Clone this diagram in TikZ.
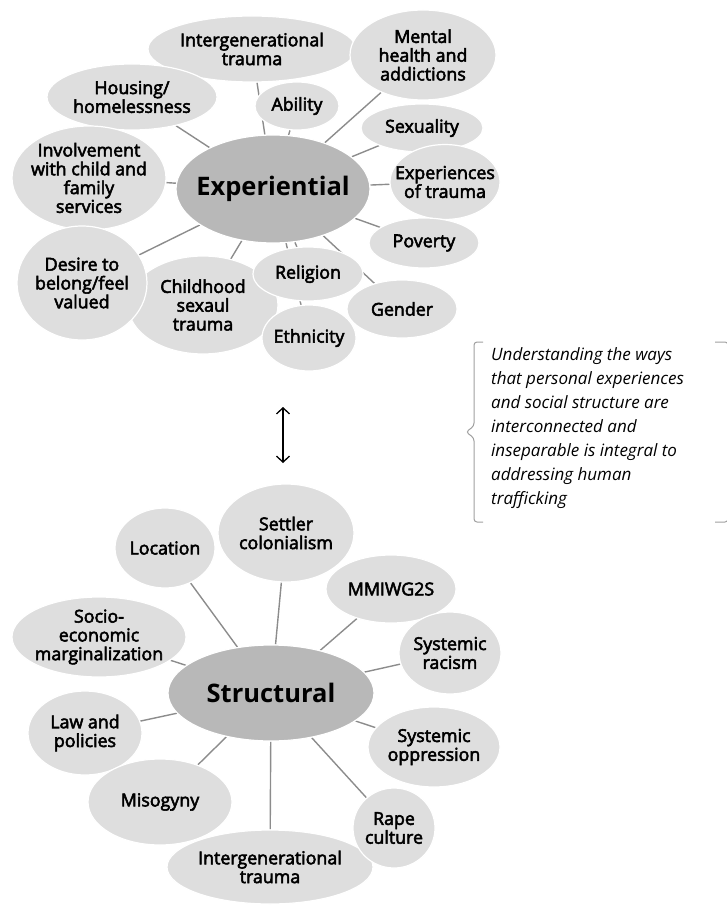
\documentclass[tikz,border=0pt]{standalone}
\usepackage{fontspec}
\setmainfont{Open Sans}
\newfontfamily\bubfont[FakeBold=3]{Open Sans}
\usetikzlibrary{shapes.geometric}
\usetikzlibrary{backgrounds}
\usetikzlibrary{arrows.meta}

\definecolor{bubgray}{HTML}{DEDEDE}
\definecolor{hubgray}{HTML}{B8B8B8}
\definecolor{spokegray}{HTML}{8C8C8C}
\definecolor{bracegray}{HTML}{A0A0A0}

\tikzset{
  bub/.style 2 args={ellipse, fill=bubgray, draw=white, line width=1.2pt,
    minimum width=#1, minimum height=#2, inner sep=0pt},
  hub/.style 2 args={ellipse, fill=hubgray, draw=white, line width=1.2pt,
    minimum width=#1, minimum height=#2, inner sep=0pt},
  lbl/.style={align=center, inner sep=0pt,
    font=\bubfont\fontsize{17.8}{18.8}\selectfont},
  hubtxt/.style={inner sep=0pt, font=\fontsize{25.5}{28}\selectfont\bfseries},
  spoke/.style={draw=spokegray, line width=1.4pt},
  brace/.style={draw=bracegray, line width=1pt, rounded corners=3pt},
}

\begin{document}
\begin{tikzpicture}[x=1pt, y=-1pt]
    \useasboundingbox (0, 0) rectangle (727, 920);

    % experiential
    \node[hub={194}{108}, label={[hubtxt]center:Experiential}] (exp) at (273, 189) {};

    \node[bub={208}{66}, label={[lbl]center:Intergenerational\\trauma}] (intA) at (252, 49) {};
    \node[bub={146}{90}, label={[lbl]center:Mental\\health and\\addictions}] (ment) at (423, 55) {};
    \node[bub={170}{66}, label={[lbl]center:Housing/\\homelessness}] (hous) at (132, 97) {};
    \node[bub={84}{48}, label={[lbl]center:Ability}] (abil) at (297, 106) {};
    \node[bub={122}{48}, label={[lbl]center:Sexuality}] (sexu) at (422, 128) {};
    \node[bub={110}{75}, label={[lbl]center:Experiences\\of trauma}] (expt) at (445, 182) {};
    \node[bub={154}{104}, label={[lbl]center:Involvement\\with child and\\family\\services}] (invo) at (89, 178) {};
    \node[bub={110}{50}, label={[lbl]center:Poverty}] (pove) at (424, 243) {};
    \node[bub={150}{98}, label={[lbl]center:Childhood\\sexaul\\trauma}] (chil) at (203, 305) {};
    \node[bub={130}{114}, label={[lbl]center:Desire to\\belong/feel\\valued}] (desi) at (82, 283) {};
    \node[bub={94}{66}, label={[lbl]center:Ethnicity}] (ethn) at (309, 338) {};
    \node[bub={110}{58}, label={[lbl]center:Gender}] (gend) at (402, 309) {};
    \node[bub={110}{54}, label={[lbl]center:Religion}] (reli) at (308, 274) {};

    \begin{scope}[on background layer]
      \foreach \b in {intA, ment, hous, abil, sexu, expt, invo, pove, chil, desi, ethn, gend, reli}
        \draw[spoke] (exp) -- (\b);
    \end{scope}

    % double arrow
    \coordinate (arrtop) at (283, 407);
    \coordinate (arrbot) at (283, 463);
    \draw[{Straight Barb[length=6pt, width=13pt]}-{Straight Barb[length=6pt, width=13pt]}, line width=1.3pt] (arrtop) -- (arrbot);

    % structural
    \node[hub={206}{96}, label={[hubtxt]center:Structural}] (str) at (271, 693) {};

    \node[bub={130}{68}, label={[lbl]center:MMIWG2S}] (mmiw) at (391, 589) {};
    \node[bub={136}{98}, label={[lbl]center:Settler\\colonialism}] (sett) at (286, 533) {};
    \node[bub={100}{80}, label={[lbl]center:Location}] (loca) at (165, 548) {};
    \node[bub={102}{82}, label={[lbl]center:Systemic\\racism}] (raci) at (450, 653) {};
    \node[bub={174}{80}, label={[lbl]center:Socio-\\economic\\marginalization}] (soci) at (99, 637) {};
    \node[bub={114}{84}, label={[lbl]center:Law and\\policies}] (lawp) at (85, 733) {};
    \node[bub={132}{80}, label={[lbl]center:Systemic\\oppression}] (oppr) at (434, 747) {};
    \node[bub={144}{86}, label={[lbl]center:Misogyny}] (miso) at (160, 802) {};
    \node[bub={206}{74}, label={[lbl]center:Intergenerational\\trauma}] (intB) at (270, 867) {};
    \node[bub={82}{80}, label={[lbl]center:Rape\\culture}] (rape) at (394, 828) {};

    \begin{scope}[on background layer]
      \foreach \b in {mmiw, sett, loca, raci, soci, lawp, oppr, miso, intB, rape}
        \draw[spoke] (str) -- (\b);
    \end{scope}

    % note with brackets
    \node[anchor=north west, inner sep=0pt, align=left,
          font=\itshape\fontsize{17}{24}\selectfont] (note) at (491, 347)
      {Understanding the ways\\that personal experiences\\and social structure are\\interconnected and\\inseparable is integral to\\addressing human\\trafficking};
    \draw[brace] (483, 342) -- (474, 342) -- (474, 426) -- (466, 432) -- (474, 438) -- (474, 522) -- (483, 522);
    \draw[brace] (715, 342) -- (728, 342) -- (728, 522) -- (715, 522);
\end{tikzpicture}
\end{document}
